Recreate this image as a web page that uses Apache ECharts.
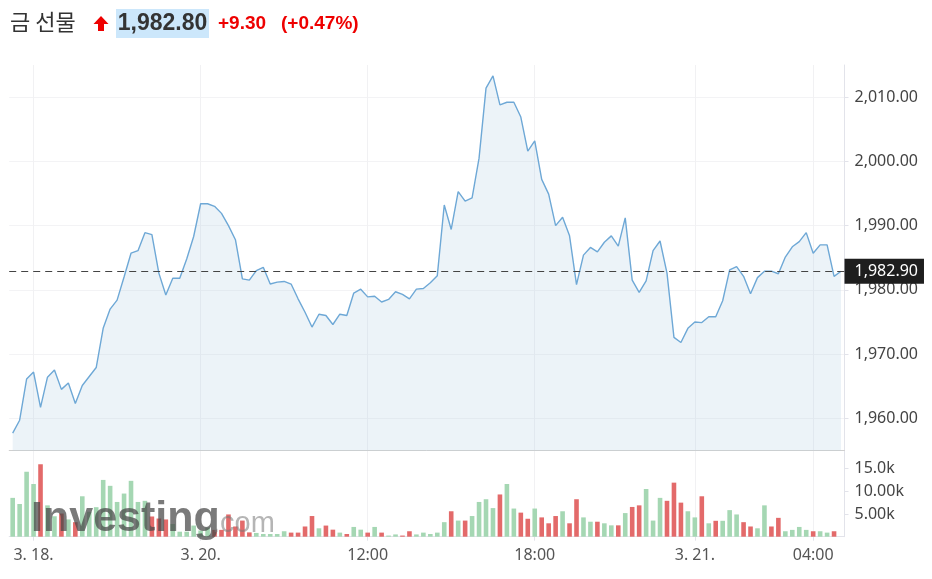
<!DOCTYPE html>
<html>
<head>
<meta charset="utf-8">
<script src="https://cdn.jsdelivr.net/npm/echarts@6/dist/echarts.min.js"></script>
<style>
  html, body { margin: 0; padding: 0; background: #fff; }
  #chart { width: 932px; height: 579px; }
</style>
</head>
<body>
<div id="chart"></div>
<script>
// 헤더 텍스트
const titleName = '금 선물';
const lastQuote = '1,982.80';
const changeAbs = '+9.30';
const changePct = '(+0.47%)';
const lastPrice = 1982.9;

// 가격 (15분 간격)
const price = [
  1957.7, 1959.7, 1966.1, 1967.2, 1961.7, 1966.4, 1967.5, 1964.5, 1965.5, 1962.3,
  1965.1, 1966.5, 1967.9, 1974.0, 1977.0, 1978.4, 1982.0, 1985.7, 1986.1, 1988.9,
  1988.6, 1982.6, 1979.2, 1981.8, 1981.8, 1984.8, 1988.3, 1993.4, 1993.4, 1993.0,
  1991.9, 1990.0, 1987.8, 1981.7, 1981.5, 1983.0, 1983.5, 1980.9, 1981.2, 1981.3,
  1980.9, 1978.6, 1976.5, 1974.2, 1976.2, 1976.0, 1974.6, 1976.2, 1976.0, 1979.5,
  1980.1, 1978.9, 1979.0, 1978.1, 1978.5, 1979.7, 1979.3, 1978.6, 1980.1, 1980.2,
  1981.1, 1982.2, 1993.2, 1989.4, 1995.3, 1993.8, 1994.3, 2000.5, 2011.4, 2013.3,
  2008.8, 2009.2, 2009.2, 2006.9, 2001.6, 2003.2, 1997.2, 1994.9, 1990.0, 1991.3,
  1988.4, 1980.8, 1985.4, 1986.6, 1985.9, 1987.4, 1988.4, 1986.8, 1991.2, 1981.5,
  1979.6, 1981.4, 1986.1, 1987.6, 1982.6, 1972.6, 1971.8, 1974.0, 1975.0, 1974.9,
  1975.8, 1975.8, 1978.3, 1983.1, 1983.6, 1982.1, 1979.4, 1981.9, 1982.9, 1982.9,
  1982.5, 1985.1, 1986.7, 1987.5, 1988.9, 1985.7, 1987.0, 1987.0, 1982.1, 1982.9
];

// 거래량
const volume = [
  8550, 7200, 14300, 11600, 15950, 6900, 4500, 5100, 3800, 3200,
  8900, 5500, 6500, 12500, 11200, 7650, 9500, 12300, 7650, 7900,
  4450, 4000, 3800, 2800, 1100, 1100, 2450, 1350, 2000, 1500,
  1500, 4900, 2250, 3550, 950, 830, 600, 600, 600, 1200,
  900, 900, 2250, 4550, 1850, 2450, 1550, 900, 600, 2150,
  1550, 900, 2150, 900, 250, 500, 250, 1200, 500, 900,
  600, 900, 3200, 5600, 3550, 3550, 4550, 7650, 8250, 6300,
  9300, 11600, 6200, 5300, 3950, 6200, 4250, 2950, 4550, 5600,
  2950, 8250, 4250, 3300, 3300, 2950, 2500, 2500, 5200, 6550,
  6900, 10500, 3550, 8550, 7900, 11900, 7500, 5600, 4250, 8900,
  2950, 3500, 3500, 5850, 4900, 3200, 2250, 1850, 6900, 2250,
  4150, 1200, 1500, 2150, 1500, 1200, 1200, 900, 1200
];
// 1 = 상승(녹색), -1 = 하락(적색)
const volumeDir = [
  1, 1, 1, 1, -1, 1, 1, -1, 1, -1,
  1, 1, 1, 1, 1, 1, 1, 1, 1, 1,
  -1, -1, -1, 1, 1, 1, 1, 1, 1, -1,
  -1, -1, -1, -1, -1, 1, 1, 1, 1, 1,
  -1, -1, -1, -1, 1, -1, -1, 1, -1, 1,
  1, -1, 1, -1, 1, 1, -1, -1, 1, 1,
  1, 1, 1, -1, 1, -1, 1, 1, 1, 1,
  -1, 1, 1, -1, -1, 1, -1, -1, -1, 1,
  -1, -1, 1, 1, -1, 1, 1, -1, 1, -1,
  -1, 1, 1, 1, -1, -1, -1, 1, 1, -1,
  1, -1, 1, 1, 1, -1, -1, 1, 1, -1,
  -1, 1, 1, 1, 1, -1, 1, 1, -1
];

// 축 눈금
const xTickIdx = [3, 27, 51, 75, 98, 115];
const xTickLabels = ['3. 18.', '3. 20.', '12:00', '18:00', '3. 21.', '04:00'];
const priceTicks = [1960, 1970, 1980, 1990, 2000, 2010];
const volumeTicks = [5000, 10000, 15000];
const volumeTickLabels = ['5.00k', '10.00k', '15.0k'];

const categories = price.map((_, i) => {
  const k = xTickIdx.indexOf(i);
  return k >= 0 ? xTickLabels[k] : String(i);
});
const isTick = (i) => xTickIdx.indexOf(i) >= 0;

const UP = '#a5d7b3';
const DOWN = '#e36a6a';
const FONT = "'Noto Sans', 'Noto Sans CJK KR', sans-serif";

let myChart = echarts.init(document.getElementById('chart'));

const gridLeft = 9.2, gridRight = 87.5;

let option = {
  animation: false,
  textStyle: { fontFamily: FONT },
  grid: [
    { left: gridLeft, right: gridRight, top: 65, height: 385.4 },
    { left: gridLeft, right: gridRight, top: 450.4, height: 86.3 }
  ],
  xAxis: [
    {
      type: 'category', gridIndex: 0, data: categories, boundaryGap: true,
      axisLine: { show: true, lineStyle: { color: '#cfcfcf', width: 1 } },
      axisTick: { show: false },
      axisLabel: { show: false },
      splitLine: { show: true, interval: isTick, alignWithLabel: true,
        lineStyle: { color: '#f1f1f3', width: 1 } }
    },
    {
      type: 'category', gridIndex: 1, data: categories, boundaryGap: true,
      axisLine: { show: true, lineStyle: { color: '#e2e3ea', width: 1 } },
      axisTick: { show: true, interval: isTick, alignWithLabel: true, length: 4,
        lineStyle: { color: '#e2e3ea' } },
      axisLabel: { interval: isTick, color: '#555', fontSize: 16, margin: 11,
        fontFamily: FONT },
      splitLine: { show: true, interval: isTick, alignWithLabel: true,
        lineStyle: { color: '#f1f1f3', width: 1 } }
    }
  ],
  yAxis: [
    {
      type: 'value', gridIndex: 0, position: 'right', min: 1955, max: 2015,
      axisLine: { show: true, lineStyle: { color: '#e2e3ea' } },
      axisTick: { show: true, length: 4, customValues: priceTicks,
        lineStyle: { color: '#e2e3ea' } },
      axisLabel: { customValues: priceTicks, color: '#444', fontSize: 16, margin: 10,
        formatter: (v) => v.toLocaleString('en-US', { minimumFractionDigits: 2, maximumFractionDigits: 2 }) },
      splitLine: { show: true, lineStyle: { color: '#f3f3f5', width: 1 } }
    },
    {
      type: 'value', gridIndex: 1, position: 'right', min: 0, max: 19000,
      axisLine: { show: true, lineStyle: { color: '#e2e3ea' } },
      axisTick: { show: true, length: 4, customValues: volumeTicks,
        lineStyle: { color: '#e2e3ea' } },
      axisLabel: { customValues: volumeTicks, color: '#444', fontSize: 16, margin: 10,
        formatter: (v) => {
          const k = volumeTicks.indexOf(v);
          return k >= 0 ? volumeTickLabels[k] : '';
        } },
      splitLine: { show: false }
    }
  ],
  graphic: [
    { type: 'text', left: 10, top: 11, z: 10,
      style: { text: titleName, fontSize: 22, fill: '#333', fontFamily: "'Noto Sans CJK KR', sans-serif" } },
    { type: 'polygon', z: 10,
      shape: { points: [[101, 16], [108.5, 24], [104, 24], [104, 31], [98, 31], [98, 24], [93.5, 24]] },
      style: { fill: '#ee0000' } },
    { type: 'rect', z: 9, shape: { x: 116, y: 9, width: 93, height: 29 },
      style: { fill: '#cce7fb' } },
    { type: 'text', z: 10, x: 162.5, y: 24,
      style: { text: lastQuote, fontSize: 23, fontWeight: 'bold', fill: '#333',
        align: 'center', verticalAlign: 'middle', fontFamily: "'Liberation Sans', Arial, sans-serif" } },
    { type: 'text', z: 10, x: 218, y: 24,
      style: { text: changeAbs, fontSize: 19, fontWeight: 'bold', fill: '#ee0000',
        verticalAlign: 'middle', fontFamily: "'Liberation Sans', Arial, sans-serif" } },
    { type: 'text', z: 10, x: 281, y: 24,
      style: { text: changePct, fontSize: 19, fontWeight: 'bold', fill: '#ee0000',
        verticalAlign: 'middle', fontFamily: "'Liberation Sans', Arial, sans-serif" } },
    // 워터마크
    { type: 'text', z: 5, x: 31, y: 519,
      style: { text: 'Investing', fontSize: 43, fontWeight: 'bold', fill: 'rgba(70,70,70,0.72)',
        verticalAlign: 'middle', fontFamily: "'Liberation Sans', Arial, sans-serif",
        shadowBlur: 4, shadowColor: 'rgba(70,70,70,0.6)' } },
    { type: 'text', z: 5, x: 212, y: 524,
      style: { text: '.com', fontSize: 29, fill: 'rgba(120,120,120,0.55)',
        verticalAlign: 'middle', fontFamily: "'Liberation Sans', Arial, sans-serif" } }
  ],
  series: [
    {
      name: 'price', type: 'line', xAxisIndex: 0, yAxisIndex: 0, data: price,
      symbol: 'none', smooth: false,
      lineStyle: { color: '#6ea8d6', width: 1.4 },
      areaStyle: { color: 'rgba(178,206,226,0.36)', origin: 'start' },
      markLine: {
        silent: true, symbol: 'none',
        lineStyle: { color: '#444', type: [7, 5], width: 1.2 },
        label: {
          position: 'end', distance: 0, color: '#fff', fontSize: 16,
          backgroundColor: '#1e1e1e', padding: [5, 6, 4, 10],
          formatter: () => lastPrice.toLocaleString('en-US', { minimumFractionDigits: 2 })
        },
        data: [{ yAxis: lastPrice }]
      }
    },
    {
      name: 'volume', type: 'bar', xAxisIndex: 1, yAxisIndex: 1,
      barWidth: 4.6,
      data: volume.map((v, i) => ({ value: v, itemStyle: { color: volumeDir[i] > 0 ? UP : DOWN } }))
    }
  ]
};
myChart.setOption(option);
</script>
</body>
</html>
